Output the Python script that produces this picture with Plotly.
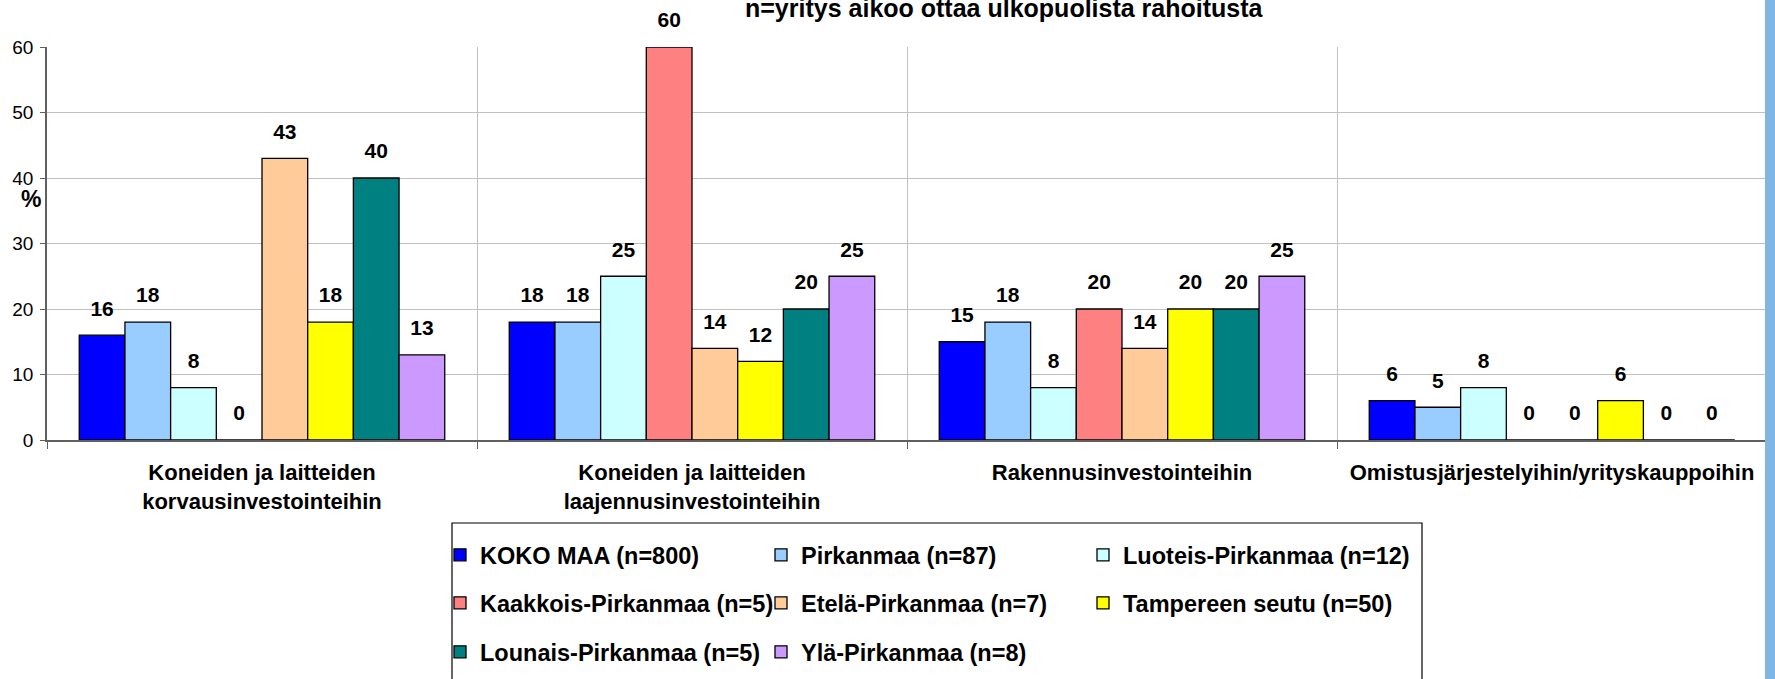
import plotly.graph_objects as go

# ---------------- data ----------------
categories = [
    "Koneiden ja laitteiden<br>korvausinvestointeihin",
    "Koneiden ja laitteiden<br>laajennusinvestointeihin",
    "Rakennusinvestointeihin",
    "Omistusjärjestelyihin/yrityskauppoihin",
]
series_names = [
    "KOKO MAA (n=800)",
    "Pirkanmaa (n=87)",
    "Luoteis-Pirkanmaa (n=12)",
    "Kaakkois-Pirkanmaa (n=5)",
    "Etelä-Pirkanmaa (n=7)",
    "Tampereen seutu (n=50)",
    "Lounais-Pirkanmaa (n=5)",
    "Ylä-Pirkanmaa (n=8)",
]
koko_maa = [16, 18, 15, 6]
pirkanmaa = [18, 18, 18, 5]
luoteis = [8, 25, 8, 8]
kaakkois = [0, 60, 20, 0]
etela = [43, 14, 14, 0]
tampereen = [18, 12, 20, 6]
lounais = [40, 20, 20, 0]
yla = [13, 25, 25, 0]
series_values = [koko_maa, pirkanmaa, luoteis, kaakkois, etela, tampereen, lounais, yla]
y_ticks = [0, 10, 20, 30, 40, 50, 60]
y_max = 60
title_text = "n=yritys aikoo ottaa ulkopuolista rahoitusta"
y_title = "%"

# ---------------- style ----------------
colors = ["#0000FF", "#99CCFF", "#CCFFFF", "#FF8080",
          "#FFCC99", "#FFFF00", "#008080", "#CC99FF"]
FONT = "Liberation Sans, Arial, sans-serif"
W, H = 1775, 679
ML, MR, MT, MB = 47, 8, 0, 239
PW, PH = W - ML - MR, H - MT - MB
BAR_TOP_PX = 47                      # pixel row of the 60 gridline
main_frac = (H - MB - BAR_TOP_PX) / PH  # main plot occupies this part of the area


def px_x(x):
    return (x - ML) / PW


def px_y(y):
    return (H - MB - y) / PH


label_offset = 3.8  # data labels sit this far (axis units) above bar tops

fig = go.Figure()
for i, (name, vals) in enumerate(zip(series_names, series_values)):
    legend_id = "legend" if i == 0 else f"legend{i + 1}"
    fig.add_trace(go.Bar(
        x=categories, y=vals, name=name, offsetgroup=str(i),
        marker=dict(color=colors[i], line=dict(color="black", width=1.3)),
        legend=legend_id, showlegend=True, xaxis="x", yaxis="y",
    ))
# data labels on an invisible companion subplot with the same scale but taller area
for i, (name, vals) in enumerate(zip(series_names, series_values)):
    fig.add_trace(go.Scatter(
        x=categories, y=[v + label_offset for v in vals],
        xaxis="x2", yaxis="y2",
        offsetgroup=str(i), mode="text", showlegend=False, hoverinfo="skip",
        text=[str(v) for v in vals], textposition="middle center",
        cliponaxis=False,
        textfont=dict(family=FONT, size=21, color="black", weight="bold"),
    ))

# legends: one per entry, laid out like the original 3-column box
col_x = [440, 761, 1083]
row_y = [555, 603, 652]
legends = {}
for i in range(len(series_names)):
    key = "legend" if i == 0 else f"legend{i + 1}"
    legends[key] = dict(
        x=px_x(col_x[i % 3]), y=px_y(row_y[i // 3]),
        xanchor="left", yanchor="middle",
        bgcolor="rgba(0,0,0,0)", borderwidth=0,
        font=dict(family=FONT, size=23.5, color="black", weight="bold"),
    )

fig.update_layout(
    width=W, height=H, autosize=False,
    margin=dict(l=ML, r=MR, t=MT, b=MB, pad=0, autoexpand=False),
    paper_bgcolor="white", plot_bgcolor="rgba(0,0,0,0)",
    barmode="group", bargap=0.15, bargroupgap=0,
    scattermode="group", scattergap=0.15,
    font=dict(family=FONT, color="black"),
    xaxis=dict(
        type="category", tickson="boundaries", ticks="outside", ticklen=7,
        tickcolor="#606060", tickwidth=1.2, automargin=False,
        showgrid=True, gridcolor="#c0c0c0", gridwidth=1,
        showline=True, linecolor="#606060", linewidth=1.5,
        tickfont=dict(family=FONT, size=22, color="black", weight="bold"),
        ticklabelstandoff=12, domain=[0, 1], anchor="y",
    ),
    yaxis=dict(
        range=[0, y_max], tickvals=y_ticks, ticks="outside", ticklen=5,
        tickcolor="#606060", tickwidth=1.2, automargin=False,
        showgrid=True, gridcolor="#c0c0c0", gridwidth=1,
        showline=True, linecolor="#606060", linewidth=1.5, zeroline=False,
        tickfont=dict(family=FONT, size=19, color="black"),
        ticklabelstandoff=3, domain=[0, main_frac], anchor="x",
    ),
    xaxis2=dict(type="category", matches="x", domain=[0, 1], anchor="y2",
                visible=False, showgrid=False),
    yaxis2=dict(range=[0, y_max / main_frac], domain=[0, 1], anchor="x2",
                visible=False, showgrid=False, zeroline=False),
    annotations=[
        dict(text=title_text, xref="paper", yref="paper",
             x=px_x(1004), y=px_y(8), xanchor="center", yanchor="middle",
             showarrow=False,
             font=dict(family=FONT, size=25, color="black", weight="bold")),
        dict(text=y_title, xref="paper", yref="paper",
             x=px_x(31), y=px_y(199), xanchor="center", yanchor="middle",
             showarrow=False,
             font=dict(family=FONT, size=23, color="black", weight="bold")),
    ],
    shapes=[
        dict(type="rect", xref="paper", yref="paper",
             x0=px_x(452), x1=px_x(1422), y0=px_y(523), y1=px_y(700),
             line=dict(color="black", width=1.2), fillcolor="rgba(0,0,0,0)"),
        dict(type="rect", xref="paper", yref="paper",
             x0=px_x(1765), x1=px_x(1776), y0=px_y(-1), y1=px_y(680),
             line=dict(width=0), fillcolor="#80b6e6"),
    ],
    **legends,
)

fig.write_html(
    "out.html",
    config={"displayModeBar": False},
    post_script="document.body.style.margin='0';document.body.style.overflow='hidden';",
)
